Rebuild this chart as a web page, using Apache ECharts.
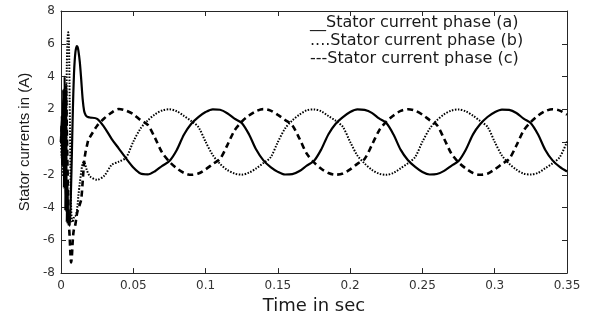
<!DOCTYPE html>
<html>
<head>
<meta charset="utf-8">
<script src="https://cdn.jsdelivr.net/npm/echarts@6/dist/echarts.min.js"></script>
<style>
  html, body { margin: 0; padding: 0; background: #fff; }
  #chart { width: 600px; height: 320px; }
</style>
</head>
<body>
<div id="chart"></div>
<script>
const axisColor = "#262626";
const labelColor = "#333333";

// time in seconds, fine steps during the start-up transient
const time = [
  0, 0.0005, 0.001, 0.0015, 0.002, 0.0025, 0.003, 0.0035, 0.004, 0.0045,
  0.005, 0.0055, 0.006, 0.0065, 0.007, 0.0075, 0.008, 0.0085, 0.009, 0.0095,
  0.01, 0.0105, 0.011, 0.0115, 0.012, 0.013, 0.014, 0.015, 0.016, 0.017,
  0.018, 0.019, 0.02,
  0.025, 0.03, 0.035, 0.04, 0.045, 0.05, 0.055, 0.06, 0.065, 0.07,
  0.075, 0.08, 0.085, 0.09, 0.095, 0.1, 0.105, 0.11, 0.115, 0.12,
  0.125, 0.13, 0.135, 0.14, 0.145, 0.15, 0.155, 0.16, 0.165, 0.17,
  0.175, 0.18, 0.185, 0.19, 0.195, 0.2, 0.205, 0.21, 0.215, 0.22,
  0.225, 0.23, 0.235, 0.24, 0.245, 0.25, 0.255, 0.26, 0.265, 0.27,
  0.275, 0.28, 0.285, 0.29, 0.295, 0.3, 0.305, 0.31, 0.315, 0.32,
  0.325, 0.33, 0.335, 0.34, 0.345, 0.35,
];

const phaseA = [
  0, 1.6, -1.2, 3.2, -2.8, 4.0, -4.2, 3.0, -4.9, -2.5,
  -5.0, -4.6, -5.1, -4.2, -2.6, -0.8, 1.2, 2.9, 4.2, 5.0,
  5.5, 5.75, 5.85, 5.8, 5.6, 4.9, 3.8, 2.6, 1.9, 1.65,
  1.55, 1.52, 1.5,
  1.42, 0.9, 0.2, -0.4, -1.0, -1.55, -1.92, -1.97, -1.78, -1.45,
  -1.16, -0.5, 0.45, 1.1, 1.52, 1.83, 2.0, 1.97, 1.76, 1.43,
  1.17, 0.48, -0.46, -1.12, -1.53, -1.82, -1.98, -1.96, -1.77, -1.44,
  -1.15, -0.45, 0.48, 1.12, 1.52, 1.83, 1.99, 1.96, 1.78, 1.44,
  1.16, 0.46, -0.48, -1.11, -1.52, -1.83, -1.98, -1.95, -1.76, -1.45,
  -1.16, -0.47, 0.47, 1.1, 1.53, 1.82, 1.98, 1.96, 1.77, 1.43,
  1.15, 0.46, -0.48, -1.12, -1.52, -1.8,
];

const phaseB = [
  0, -1.0, 1.5, -2.0, 2.2, -2.5, 3.0, -1.5, 4.5, 6.2,
  6.7, 6.0, 2.5, -1.5, -4.0, -4.8, -4.9, -4.7, -4.6, -4.5,
  -4.5, -4.4, -4.2, -3.8, -3.3, -2.5, -1.8, -1.3, -1.2, -1.45,
  -1.75, -1.95, -2.1,
  -2.3, -2.05, -1.4, -1.2, -0.95, 0.02, 0.82, 1.32, 1.69, 1.93,
  2.0, 1.88, 1.6, 1.29, 0.92, 0.02, -0.8, -1.33, -1.7, -1.92,
  -1.99, -1.87, -1.61, -1.28, -0.93, 0.0, 0.83, 1.32, 1.68, 1.94,
  1.99, 1.88, 1.59, 1.3, 0.92, 0.01, -0.82, -1.31, -1.69, -1.93,
  -2.0, -1.88, -1.6, -1.29, -0.91, 0.02, 0.81, 1.33, 1.69, 1.92,
  1.99, 1.87, 1.61, 1.28, 0.93, 0.01, -0.82, -1.32, -1.68, -1.93,
  -1.98, -1.88, -1.6, -1.3, -0.92, 0.02,
];

const phaseC = [
  0, 1.0, -1.5, 2.0, -1.0, 2.5, -2.0, 3.5, 1.0, -1.5,
  -3.5, -5.0, -5.8, -6.8, -7.35, -7.0, -6.2, -5.6, -5.3, -5.2,
  -5.0, -4.7, -4.4, -4.2, -4.1, -3.8, -3.5, -2.4, -1.2, -0.6,
  -0.2, 0.15, 0.3,
  1.0, 1.45, 1.8, 2.02, 1.92, 1.7, 1.34, 1.05, 0.25, -0.65,
  -1.2, -1.6, -1.88, -2.0, -1.92, -1.67, -1.34, -1.03, -0.2, 0.7,
  1.24, 1.62, 1.89, 2.01, 1.92, 1.66, 1.35, 1.02, 0.2, -0.71,
  -1.24, -1.63, -1.89, -1.99, -1.92, -1.67, -1.33, -1.03, -0.19, 0.7,
  1.25, 1.62, 1.9, 2.0, 1.91, 1.67, 1.34, 1.04, 0.2, -0.7,
  -1.24, -1.61, -1.89, -2.0, -1.93, -1.67, -1.34, -1.03, -0.21, 0.7,
  1.23, 1.62, 1.89, 2.0, 1.92, 1.67,
];

const seriesNames = [
  "Stator current phase (a)",
  "Stator current phase (b)",
  "Stator current phase (c)",
];
const legendPrefix = ["__", "....", "---"];

const pairs = (values) => time.map((t, i) => [t, values[i]]);

const chart = echarts.init(document.getElementById("chart"));

const boxAxis = {
  axisLine: { show: true, onZero: false, lineStyle: { color: axisColor, width: 1 } },
  axisTick: { show: true, inside: true, length: 5, lineStyle: { color: axisColor } },
  splitLine: { show: false },
};

chart.setOption({
  animation: false,
  backgroundColor: "#ffffff",
  grid: { left: 61, right: 33, top: 11, bottom: 39 },
  legend: {
    orient: "vertical",
    left: 300,
    top: 9,
    icon: "none",
    itemWidth: 0,
    itemGap: 0,
    selectedMode: false,
    data: seriesNames,
    formatter: (name) => legendPrefix[seriesNames.indexOf(name)] + name,
    textStyle: {
      color: "#1a1a1a",
      fontFamily: "DejaVu Sans",
      fontSize: 16,
      lineHeight: 18,
      padding: 0,
    },
  },
  xAxis: [
    {
      type: "value",
      min: 0,
      max: 0.35,
      interval: 0.05,
      position: "bottom",
      name: "Time in sec",
      nameLocation: "middle",
      nameGap: 18,
      nameTextStyle: { color: "#1a1a1a", fontFamily: "DejaVu Sans", fontSize: 18, verticalAlign: "top" },
      axisLabel: { color: labelColor, fontFamily: "DejaVu Sans", fontSize: 12, margin: 7 },
      ...boxAxis,
    },
    {
      type: "value",
      min: 0,
      max: 0.35,
      interval: 0.05,
      position: "top",
      axisLabel: { show: false },
      ...boxAxis,
    },
  ],
  yAxis: [
    {
      type: "value",
      min: -8,
      max: 8,
      interval: 2,
      position: "left",
      name: "Stator currents in (A)",
      nameLocation: "middle",
      nameGap: 28,
      nameRotate: 90,
      nameTextStyle: { color: "#1a1a1a", fontFamily: "Liberation Sans", fontSize: 15 },
      axisLabel: { color: labelColor, fontFamily: "DejaVu Sans", fontSize: 12, margin: 6 },
      ...boxAxis,
    },
    {
      type: "value",
      min: -8,
      max: 8,
      interval: 2,
      position: "right",
      axisLabel: { show: false },
      ...boxAxis,
    },
  ],
  series: [
    {
      name: seriesNames[0],
      type: "line",
      data: pairs(phaseA),
      showSymbol: false,
      smooth: 0.3,
      lineStyle: { color: "#000000", width: 2.2, type: "solid" },
      itemStyle: { color: "#000000" },
    },
    {
      name: seriesNames[1],
      type: "line",
      data: pairs(phaseB),
      showSymbol: false,
      smooth: 0.3,
      lineStyle: { color: "#000000", width: 2, type: [1.5, 1.5] },
      itemStyle: { color: "#000000" },
    },
    {
      name: seriesNames[2],
      type: "line",
      data: pairs(phaseC),
      showSymbol: false,
      smooth: 0.3,
      lineStyle: { color: "#000000", width: 2.6, type: [6, 4] },
      itemStyle: { color: "#000000" },
    },
  ],
});
</script>
</body>
</html>
